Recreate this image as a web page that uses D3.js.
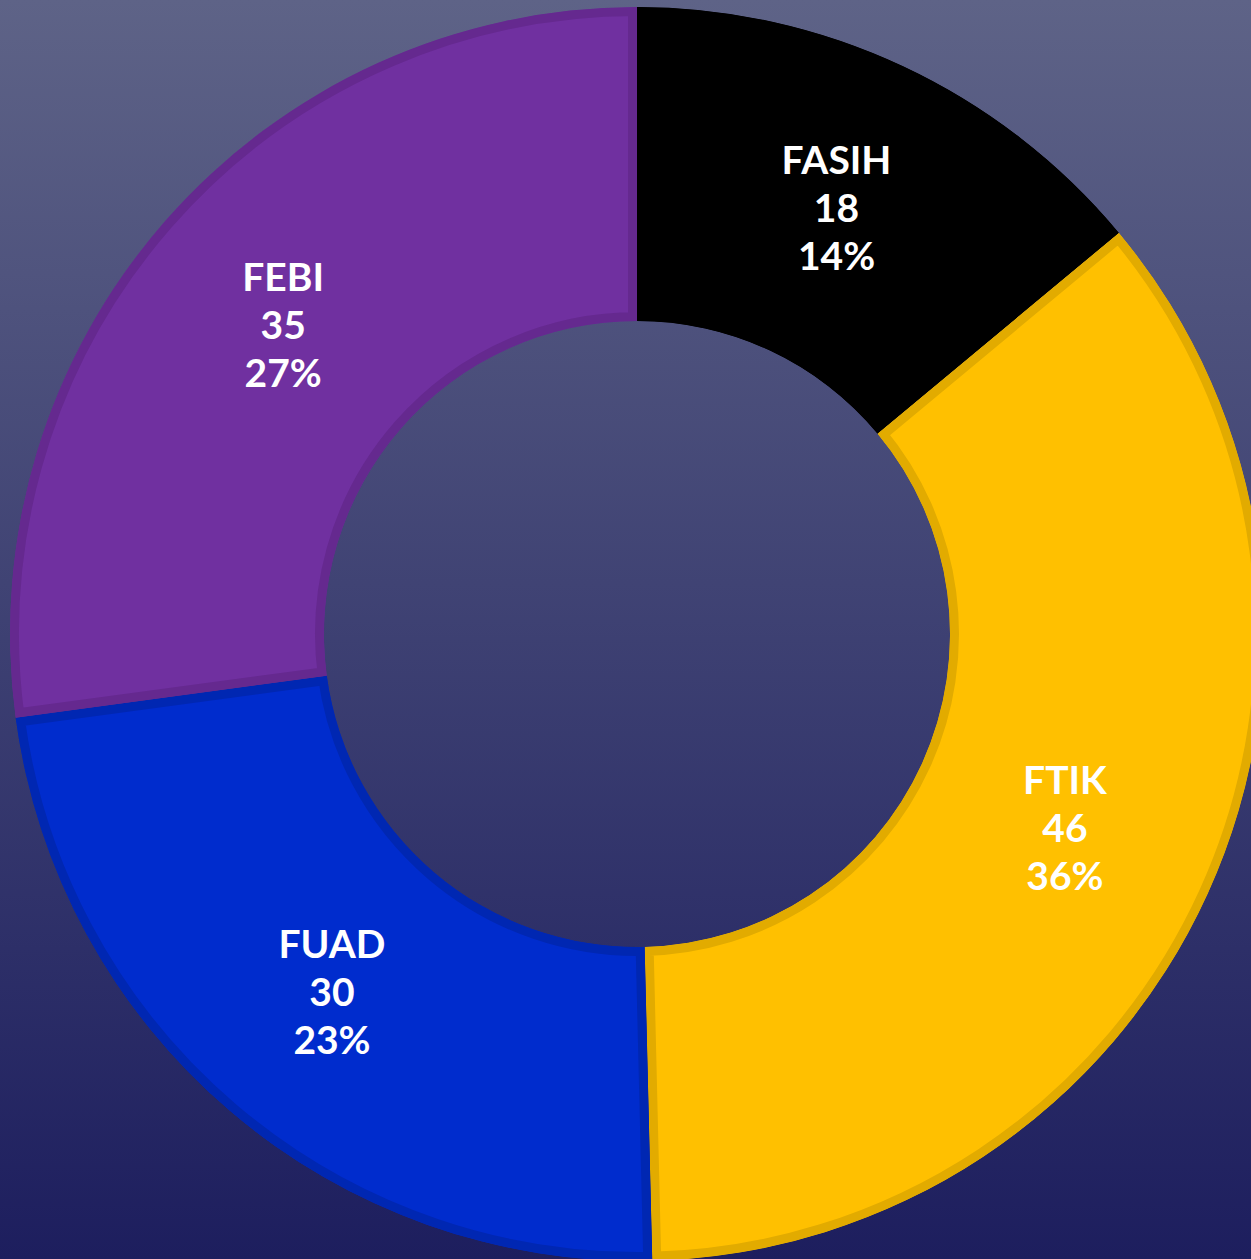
<!DOCTYPE html>
<html>
<head>
<meta charset="utf-8">
<script src="https://cdn.jsdelivr.net/npm/d3@7"></script>
<style>
  body { margin: 0; overflow: hidden; }
  svg { display: block; }
</style>
</head>
<body>
<svg></svg>
<script>
const labels = ["FASIH", "FTIK", "FUAD", "FEBI"];
const values = [18, 46, 30, 35];
const fills = ["#000000", "#ffc000", "#002ccd", "#7030a0"];
const borders = ["#000000", "#e2ab00", "#0027b2", "#65298f"];

const width = 1251, height = 1259;
const cx = 637, cy = 634;
const outerR = 627, innerR = 313;

const svg = d3.select("svg")
    .attr("width", width)
    .attr("height", height);

const defs = svg.append("defs");
const grad = defs.append("linearGradient")
    .attr("id", "bg")
    .attr("x1", 0).attr("y1", 0)
    .attr("x2", 0).attr("y2", 1);
grad.append("stop").attr("offset", "0%").attr("stop-color", "#5e6387");
grad.append("stop").attr("offset", "100%").attr("stop-color", "#1d1e5e");

svg.append("rect")
    .attr("width", width)
    .attr("height", height)
    .attr("fill", "url(#bg)");

const data = labels.map((d, i) => ({label: d, value: values[i], i: i}));
const total = d3.sum(values);

const pie = d3.pie().value(d => d.value).sort(null);
const arc = d3.arc().innerRadius(innerR).outerRadius(outerR);
const arcs = pie(data);

const g = svg.append("g")
  .attr("transform", `translate(${cx},${cy})`);

// clip each slice to itself so the border sits on the inside
defs.selectAll("clipPath")
  .data(arcs)
  .enter()
  .append("clipPath")
    .attr("id", d => "clip" + d.data.i)
  .append("path")
    .attr("d", arc);

g.selectAll("path.slice")
  .data(arcs)
  .enter()
  .append("path")
    .attr("class", "slice")
    .attr("d", arc)
    .attr("clip-path", d => `url(#clip${d.data.i})`)
    .style("fill", d => fills[d.data.i])
    .style("stroke", d => borders[d.data.i])
    .style("stroke-width", 18);

const fmt = d3.format(".0%");

const lbl = g.selectAll("text")
  .data(arcs)
  .enter()
  .append("text")
    .attr("transform", d => `translate(${arc.centroid(d)})`)
    .attr("text-anchor", "middle")
    .style("font-family", "Lato, 'Open Sans', sans-serif")
    .style("font-weight", "bold")
    .style("font-size", "39px")
    .style("fill", "#ffffff");

lbl.each(function(d) {
  const t = d3.select(this);
  const lines = [d.data.label, d.data.value, fmt(d.data.value / total)];
  lines.forEach((s, k) => {
    t.append("tspan")
      .attr("x", 0)
      .attr("y", (k - 1) * 48 + 14)
      .text(s);
  });
});
</script>
</body>
</html>
